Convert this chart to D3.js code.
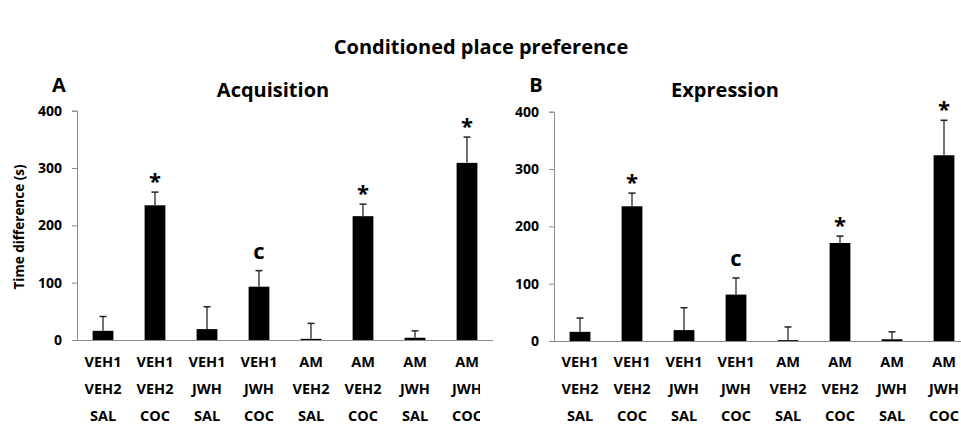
<!DOCTYPE html>
<html>
<head>
<meta charset="utf-8">
<script src="https://cdn.jsdelivr.net/npm/d3@7"></script>
<style>
  body { margin: 0; background: #fff; }
  text { font-family: "Open Sans", sans-serif; font-weight: bold; }
</style>
</head>
<body>
<svg width="961" height="424"></svg>
<script>
var svg = d3.select("svg");

// groups, three label rows
var row1 = ["VEH1", "VEH1", "VEH1", "VEH1", "AM", "AM", "AM", "AM"];
var row2 = ["VEH2", "VEH2", "JWH", "JWH", "VEH2", "VEH2", "JWH", "JWH"];
var row3 = ["SAL", "COC", "SAL", "COC", "SAL", "COC", "SAL", "COC"];
var groups = d3.range(8);

var yTicks = [0, 100, 200, 300, 400];

var acqMean = [16, 235, 19, 93, 2, 216, 4, 309];
var acqErr = [25, 23, 39, 28, 27, 21, 12, 45];
var expMean = [16, 235, 19, 81, 1.5, 171, 3, 324];
var expErr = [24, 23, 39, 29, 23, 12, 13, 61];
var marks = ["", "*", "", "c", "", "*", "", "*"];

svg.append("text")
    .text("Conditioned place preference")
    .attr("x", 481)
    .attr("y", 54)
    .attr("text-anchor", "middle")
    .attr("font-size", 20);

svg.append("defs").append("clipPath").attr("id", "clipA")
    .append("rect").attr("x", 0).attr("y", 0).attr("width", 480).attr("height", 424);

var draw_panel = function(opt, means, errs){
    var x = d3.scaleBand().domain(groups)
        .range([opt.left, opt.left + 416])
        .paddingInner(0.6).paddingOuter(0.3);
    var y = d3.scaleLinear().domain([0, 400]).range([opt.bottom, opt.top]);

    var g = svg.append("g");
    var inner = g.append("g");
    if (opt.clip) inner.attr("clip-path", "url(#" + opt.clip + ")");

    // y axis
    var ya = g.append("g")
        .attr("transform", "translate(" + opt.left + ",0)")
        .call(d3.axisLeft(y).tickValues(yTicks).tickSize(5).tickPadding(10));
    ya.select(".domain").attr("stroke", "#8c8c8c");
    ya.selectAll(".tick line").attr("stroke", "#8c8c8c");
    ya.selectAll(".tick text").attr("font-size", 14).attr("fill", "#000")
        .style("font-family", "'Open Sans', sans-serif").style("font-weight", "bold");

    // x axis baseline
    var xa = g.append("g")
        .attr("transform", "translate(0," + opt.bottom + ")")
        .call(d3.axisBottom(x).tickSize(0).tickFormat(""));
    xa.select(".domain").attr("stroke", "#8c8c8c").attr("d", "M" + opt.left + ",0.5H" + (opt.left + 416));

    inner.selectAll("rect.bar").data(groups).enter().append("rect")
        .attr("class", "bar")
        .attr("x", function(d){ return x(d); })
        .attr("width", x.bandwidth())
        .attr("y", function(d){ return y(means[d]); })
        .attr("height", function(d){ return y(0) - y(means[d]); })
        .attr("fill", "#000");

    // error bars (upper only)
    var cx = function(d){ return x(d) + x.bandwidth() / 2; };
    inner.selectAll("line.err").data(groups).enter().append("line")
        .attr("x1", cx).attr("x2", cx)
        .attr("y1", function(d){ return y(means[d]); })
        .attr("y2", function(d){ return y(means[d] + errs[d]); })
        .attr("stroke", "#444").attr("stroke-width", 1.5);
    inner.selectAll("line.cap").data(groups).enter().append("line")
        .attr("x1", function(d){ return cx(d) - 3.5; })
        .attr("x2", function(d){ return cx(d) + 3.5; })
        .attr("y1", function(d){ return y(means[d] + errs[d]); })
        .attr("y2", function(d){ return y(means[d] + errs[d]); })
        .attr("stroke", "#222").attr("stroke-width", 1.5);

    inner.selectAll("text.mark").data(groups).enter().append("text")
        .text(function(d){ return marks[d]; })
        .attr("x", cx)
        .attr("y", function(d){
            var t = y(means[d] + errs[d]);
            return marks[d] == "c" ? t - 12 : t - 3;
        })
        .attr("text-anchor", "middle")
        .attr("font-size", function(d){ return marks[d] == "c" ? 22 : 22; });

    [row1, row2, row3].forEach(function(row, i){
        inner.selectAll("text.r" + i).data(groups).enter().append("text")
            .text(function(d){ return row[d]; })
            .attr("x", cx)
            .attr("y", 366.5 + i * 27.3)
            .attr("text-anchor", "middle")
            .attr("font-size", 14.5);
    });

    svg.append("text").text(opt.letter)
        .attr("x", opt.left - 18).attr("y", 92)
        .attr("text-anchor", "middle").attr("font-size", 20);
    svg.append("text").text(opt.title)
        .attr("x", opt.titleX).attr("y", 97)
        .attr("text-anchor", "middle").attr("font-size", 20);
};

draw_panel({left: 77, top: 110.7, bottom: 340, clip: "clipA", letter: "A", title: "Acquisition", titleX: 273}, acqMean, acqErr);
draw_panel({left: 554, top: 111.7, bottom: 341, clip: null, letter: "B", title: "Expression", titleX: 725}, expMean, expErr);

svg.append("text")
    .text("Time difference (s)")
    .attr("transform", "translate(24,227) rotate(-90)")
    .attr("text-anchor", "middle")
    .attr("font-size", 13.5);
</script>
</body>
</html>
